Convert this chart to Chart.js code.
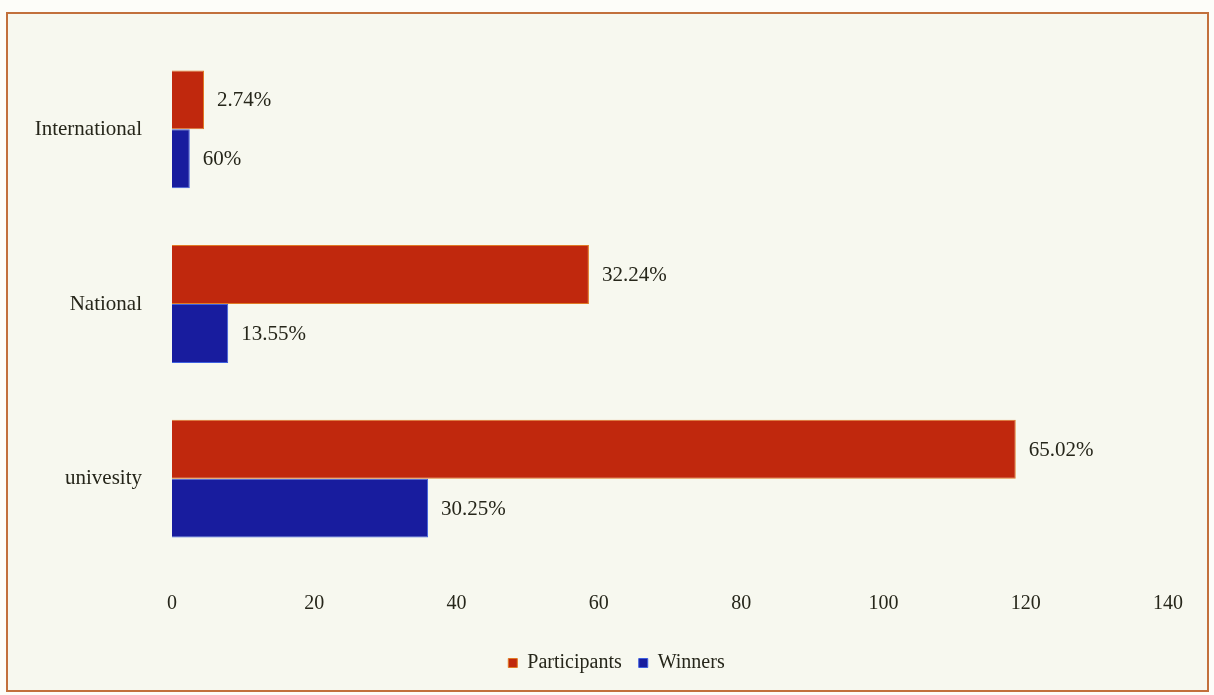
<!DOCTYPE html>
<html>
<head>
<meta charset="utf-8">
<script src="https://cdn.jsdelivr.net/npm/chart.js@4"></script>
<style>
  body { margin: 0; background: #fdfdf9; }
  #frame {
    position: absolute; left: 6px; top: 12px;
    width: 1199px; height: 676px;
    border: 2px solid #c2703c;
    background: #f7f8ef;
  }
</style>
</head>
<body>
<div id="frame"><canvas id="myChart"></canvas></div>
<script>
// categories and values
const categories = ['International', 'National', 'univesity'];
const participants = [4.5, 58.6, 118.6];
const winners = [2.5, 7.9, 36];
// the percent labels printed next to each bar
const participantLabels = ['2.74%', '32.24%', '65.02%'];
const winnerLabels = ['60%', '13.55%', '30.25%'];
const xTicks = [0, 20, 40, 60, 80, 100, 120, 140];

const textColor = '#26261a';
const serif = 'Liberation Serif';

// draws the percent text to the right of each bar
const barLabels = {
    id: 'barLabels',
    afterDatasetsDraw(chart) {
        const ctx = chart.ctx;
        const lists = [participantLabels, winnerLabels];
        ctx.save();
        ctx.font = '21px "' + serif + '"';
        ctx.fillStyle = textColor;
        ctx.textBaseline = 'middle';
        chart.data.datasets.forEach((ds, di) => {
            const meta = chart.getDatasetMeta(di);
            meta.data.forEach((bar, i) => {
                ctx.fillText(lists[di][i], bar.x + 13, bar.y + 1);
            });
        });
        ctx.restore();
    }
};

const canvas = document.getElementById('myChart');
canvas.width = 1199;
canvas.height = 676;

new Chart(canvas, {
    type: 'bar',
    data: {
        labels: categories,
        datasets: [{
            label: 'Participants',
            data: participants,
            backgroundColor: '#c0280d',
            borderColor: '#e07a24',
            borderWidth: 1,
            barPercentage: 1,
            categoryPercentage: 0.675
        }, {
            label: 'Winners',
            data: winners,
            backgroundColor: '#181c9e',
            borderColor: '#3d5fe0',
            borderWidth: 1,
            barPercentage: 1,
            categoryPercentage: 0.675
        }]
    },
    options: {
        indexAxis: 'y',
        responsive: false,
        animation: false,
        layout: { padding: { top: 28, right: 0, left: 18, bottom: 7 } },
        plugins: {
            legend: {
                position: 'bottom',
                labels: {
                    boxWidth: 9,
                    boxHeight: 9,
                    padding: 17,
                    color: textColor,
                    font: { family: serif, size: 20 }
                }
            },
            tooltip: { enabled: false }
        },
        scales: {
            x: {
                min: 0,
                max: 140,
                afterBuildTicks: (s) => { s.ticks = xTicks.map(v => ({ value: v })); },
                afterFit: (s) => { s.paddingRight = 39; s.height += 2; },
                grid: { display: false },
                border: { display: false },
                ticks: {
                    padding: 18,
                    color: textColor,
                    font: { family: serif, size: 20 }
                }
            },
            y: {
                afterFit: (s) => { s.width = 146; s.paddingTop = 0; s.paddingBottom = 0; },
                grid: { display: false },
                border: { display: false },
                ticks: {
                    padding: 22,
                    color: textColor,
                    font: { family: serif, size: 21 }
                }
            }
        }
    },
    plugins: [barLabels]
});
</script>
</body>
</html>
